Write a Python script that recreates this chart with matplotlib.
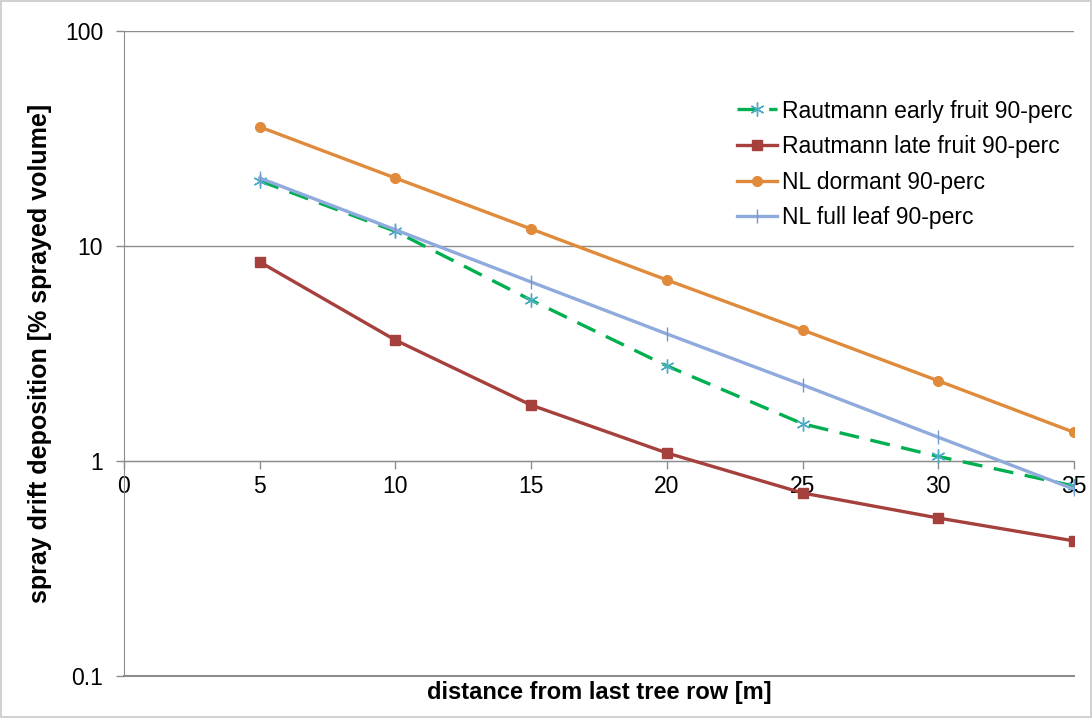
import matplotlib.pyplot as plt
from matplotlib.patches import Rectangle

plt.rcParams['font.family'] = ['Liberation Sans', 'DejaVu Sans']

# distances [m]
distance = [5, 10, 15, 20, 25, 30, 35]

# spray drift deposition [% sprayed volume]
early_fruit = [20.1, 11.7, 5.6, 2.77, 1.49, 1.05, 0.765]
late_fruit = [8.43, 3.65, 1.82, 1.09, 0.71, 0.543, 0.425]
nl_dormant = [35.8, 20.7, 12.0, 6.95, 4.07, 2.36, 1.36]
nl_full_leaf = [20.7, 11.9, 6.8, 3.9, 2.26, 1.29, 0.74]

labels = ['Rautmann early fruit 90-perc', 'Rautmann late fruit 90-perc',
          'NL dormant 90-perc', 'NL full leaf 90-perc']

grid_col = '#8c8c8c'

fig = plt.figure(figsize=(10.92, 7.18), dpi=100)
ax = fig.add_axes([124/1092, 1 - 676/718, 950/1092, 645/718])

# chart-area frame
fig.patches.append(Rectangle((0.001, 0.001), 0.998, 0.998, transform=fig.transFigure,
                             fill=False, edgecolor='#c8c8c8', linewidth=1.2))

ax.plot(distance, early_fruit, color='#00b050', linestyle=(0, (6, 3.5)), linewidth=2.4,
        marker=(6, 2, 0), markersize=10, markeredgecolor='#4bacc6', markeredgewidth=1,
        label=labels[0], zorder=3)
ax.plot(distance, late_fruit, color='#a5403d', linewidth=2.4, marker='s', markersize=7,
        label=labels[1], zorder=3)
ax.plot(distance, nl_dormant, color='#e08a3c', linewidth=2.4, marker='o', markersize=7,
        label=labels[2], zorder=3)
ax.plot(distance, nl_full_leaf, color='#8faadc', linewidth=2.4, marker='|', markersize=10,
        markeredgecolor='#6d9ad0', markeredgewidth=1,
        label=labels[3], zorder=3)

ax.set_yscale('log')
ax.set_ylim(0.1, 100)
ax.set_xlim(0, 35)
ax.set_yticks([0.1, 1, 10, 100])
ax.set_yticklabels(['0.1', '1', '10', '100'])
ax.minorticks_off()
ax.set_xticks(range(0, 36, 5))

ax.grid(axis='y', color=grid_col, linewidth=1)
ax.set_axisbelow(True)

for s in ['top', 'right']:
    ax.spines[s].set_visible(False)
ax.spines['left'].set_color(grid_col)
ax.spines['bottom'].set_color(grid_col)
ax.spines['bottom'].set_position(('data', 1))
ax.axhline(0.1, color=grid_col, linewidth=1.5, clip_on=False)

ax.tick_params(axis='both', colors=grid_col, labelcolor='black', labelsize=16.5,
               length=6, width=1)
ax.tick_params(axis='y', pad=9)
ax.tick_params(axis='x', pad=4)

ax.set_ylabel('spray drift deposition [% sprayed volume]', fontsize=18,
              fontweight='bold', labelpad=9)
ax.text(0.5, -0.008, 'distance from last tree row [m]', transform=ax.transAxes,
        ha='center', va='top', fontsize=17, fontweight='bold')

ax.legend(loc='upper left', bbox_to_anchor=(0.636, 0.908), frameon=False, fontsize=16.5,
          handlelength=1.75, handletextpad=0.2, labelspacing=0.55, borderaxespad=0)

fig.savefig('out.png', dpi=100)
